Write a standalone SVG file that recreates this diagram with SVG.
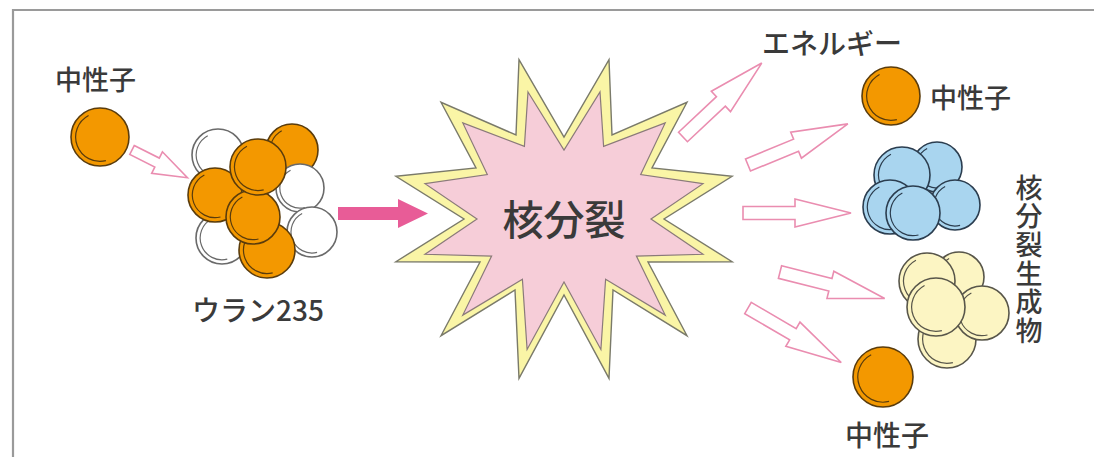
<svg xmlns="http://www.w3.org/2000/svg" xmlns:xlink="http://www.w3.org/1999/xlink" width="1094" height="457" viewBox="0 0 1094 457">
  <style>
    .lbl { font-family: "Noto Sans CJK JP", "Noto Sans", sans-serif; font-weight: 500; fill: #3a3a3a; }
    .rim { stroke-width: 1.6; }
    .hl { fill: none; stroke-width: 1.2; }
    .orange { fill: #f39800; stroke: #5a3c0c; }
    .white { fill: #ffffff; stroke: #6a6a6a; }
    .blue { fill: #a9d5ef; stroke: #2b3d4f; }
    .cream { fill: #fcf5c3; stroke: #58564a; }
    .hollow { fill: #ffffff; stroke: #ea8db0; stroke-width: 1.6; stroke-linejoin: miter; }
    .frame { fill: none; stroke: #9a9a9a; stroke-width: 2.2; }
  </style>
  <defs>
    <!-- unit sphere: outline plus a curved shading line on the left side -->
    <g id="ball">
      <circle class="rim" r="1" vector-effect="non-scaling-stroke"/>
      <path class="hl" d="M -0.394 -0.742 A 0.84 0.84 0 0 0 0.203 0.815" vector-effect="non-scaling-stroke"/>
    </g>
    <!-- outlined block arrows pointing along +x -->
    <polygon id="arrowL" points="0,-6.5 52,-6.5 52,-14 108,0 52,14 52,6.5 0,6.5"/>
    <polygon id="arrowS" points="0,-5 28,-5 28,-12 62,0 28,12 28,5 0,5"/>
  </defs>

  <rect width="1094" height="457" fill="#ffffff"/>
  <polyline class="frame" points="13,457 13,10 1094,10"/>

  <!-- incoming neutron -->
  <g id="neutron-in">
    <text class="lbl" x="55" y="90" font-size="27">中性子</text>
    <use href="#ball" class="orange" transform="translate(100 137) scale(29)"/>
  </g>

  <!-- uranium-235 nucleus -->
  <g id="uranium">
    <use href="#ball" class="orange" transform="translate(292 150) scale(26)"/>
    <use href="#ball" class="white" transform="translate(218 155) scale(26)"/>
    <use href="#ball" class="white" transform="translate(300 188) scale(24)"/>
    <use href="#ball" class="white" transform="translate(312 232) scale(25)"/>
    <use href="#ball" class="white" transform="translate(222 238) scale(26)"/>
    <use href="#ball" class="orange" transform="translate(215 195) scale(27)"/>
    <use href="#ball" class="orange" transform="translate(267 250) scale(28)"/>
    <use href="#ball" class="orange" transform="translate(253 217) scale(27)"/>
    <use href="#ball" class="orange" transform="translate(258 167) scale(28)"/>
    <text class="lbl" x="192" y="321" font-size="28">ウラン235</text>
  </g>

  <!-- fission burst -->
  <g id="fission">
    <polygon fill="#faf5a6" stroke="#7a7a6a" stroke-width="1.4" stroke-linejoin="miter"
      points="519,59.6 564,137 609,59.6 612,135 687,102.3 652,168 732.1,176.3 664,219 732.1,261.7 648,262 687,335.7 613,290 609,378.4 564,295 519,378.4 515,290 441,335.7 480,262 395.9,261.7 464,219 395.9,176.3 476,168 441,102.3 516,135"/>
    <polygon fill="#f6cdd8" stroke="#8a7a7a" stroke-width="1.2" stroke-linejoin="miter"
      points="528,92 564,150 600,92 603.6,146.3 665.2,122.9 640.7,174.5 703,183.7 651,219 703,254.3 636.4,256.1 665.2,315.1 605.6,279.3 600.9,349.5 564,282 527.1,349.5 522.4,279.3 462.8,315.1 491.6,256.1 425,254.3 477,219 425,183.7 487.3,174.5 462.8,122.9 524.4,146.3"/>
    <text class="lbl" x="564" y="235" font-size="41" text-anchor="middle">核分裂</text>
  </g>

  <!-- outgoing neutron (top) -->
  <g id="neutron-out-1">
    <use href="#ball" class="orange" transform="translate(891 96) scale(29)"/>
    <text class="lbl" x="930" y="108" font-size="27">中性子</text>
  </g>

  <!-- fission fragment (blue) -->
  <g id="fragment-1">
    <use href="#ball" class="blue" transform="translate(937 167) scale(25)"/>
    <use href="#ball" class="blue" transform="translate(902 175) scale(28)"/>
    <use href="#ball" class="blue" transform="translate(955 205) scale(25)"/>
    <use href="#ball" class="blue" transform="translate(890 207) scale(27)"/>
    <use href="#ball" class="blue" transform="translate(913 213) scale(27)"/>
  </g>

  <!-- fission fragment (cream) -->
  <g id="fragment-2">
    <use href="#ball" class="cream" transform="translate(959 277) scale(25)"/>
    <use href="#ball" class="cream" transform="translate(927 281) scale(28)"/>
    <use href="#ball" class="cream" transform="translate(947 339) scale(29)"/>
    <use href="#ball" class="cream" transform="translate(982 313) scale(27)"/>
    <use href="#ball" class="cream" transform="translate(936 307) scale(29)"/>
  </g>

  <g id="fragments-label">
    <text class="lbl" x="1029" y="174" font-size="27" writing-mode="vertical-rl" letter-spacing="1.6">核分裂生成物</text>
  </g>

  <!-- outgoing neutron (bottom) -->
  <g id="neutron-out-2">
    <use href="#ball" class="orange" transform="translate(883 377) scale(30)"/>
    <text class="lbl" x="845" y="446" font-size="28">中性子</text>
  </g>

  <!-- energy label -->
  <g id="energy">
    <text class="lbl" x="762" y="54" font-size="28">エネルギー</text>
  </g>

  <!-- connectors -->
  <g id="connectors">
    <use href="#arrowS" class="hollow" transform="translate(132 150) rotate(26.6)"/>
    <polygon fill="#e85c97" points="338,207 398,207 398,199 428,213.5 398,228 398,220 338,220"/>
    <use href="#arrowL" class="hollow" transform="translate(683 137) rotate(-43.2)"/>
    <use href="#arrowL" class="hollow" transform="translate(748 165) rotate(-22.4)"/>
    <use href="#arrowL" class="hollow" transform="translate(743 213) rotate(0)"/>
    <use href="#arrowL" class="hollow" transform="translate(780 272) rotate(14.2)"/>
    <use href="#arrowL" class="hollow" transform="translate(748 308) rotate(30.3)"/>
  </g>
</svg>
